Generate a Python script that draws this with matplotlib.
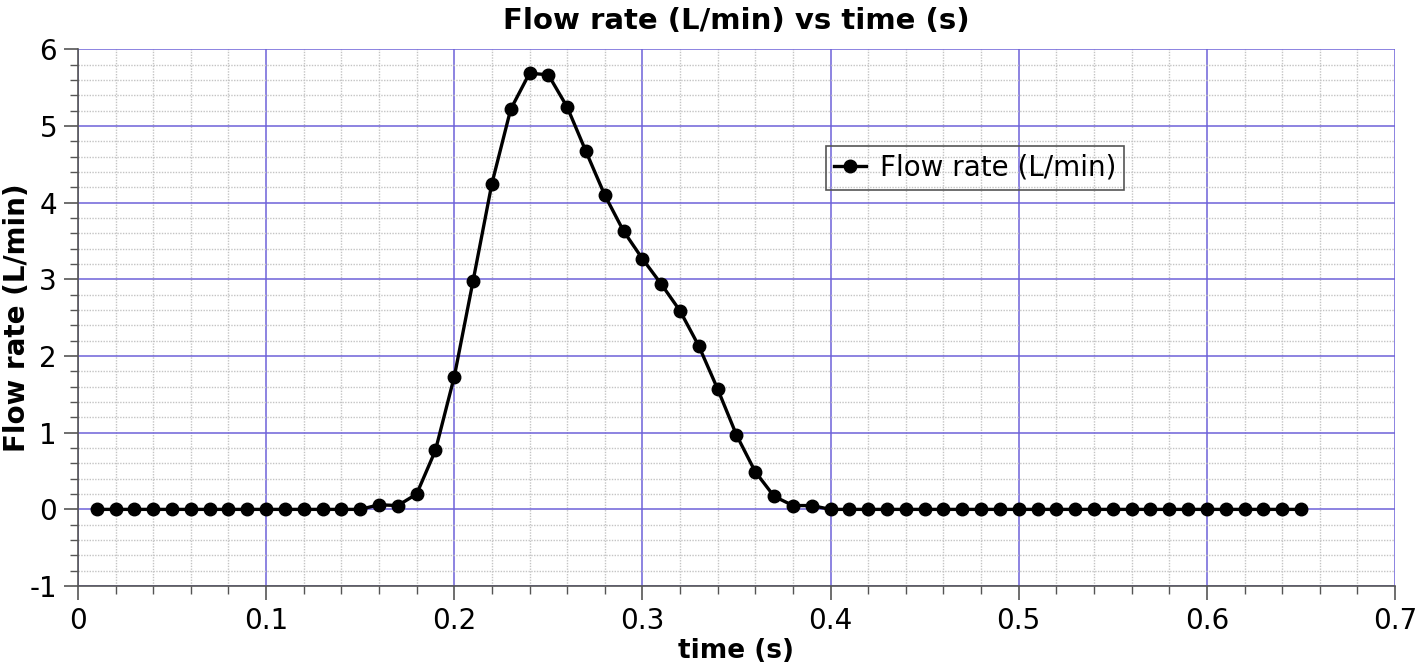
import matplotlib
matplotlib.use("Agg")
import matplotlib.pyplot as plt
from matplotlib.ticker import MultipleLocator
import numpy as np

time_s = [round(0.01 * i, 2) for i in range(1, 66)]
flow_rate = [0.0] * 15 + [
    0.06, 0.05, 0.20, 0.77, 1.73, 2.98, 4.25, 5.22, 5.69, 5.67,
    5.25, 4.67, 4.10, 3.63, 3.27, 2.94, 2.59, 2.13, 1.57, 0.97,
    0.49, 0.17, 0.05, 0.05,
] + [0.0] * 26

x_ticks = [0, 0.1, 0.2, 0.3, 0.4, 0.5, 0.6, 0.7]
x_tick_labels = ['0', '0.1', '0.2', '0.3', '0.4', '0.5', '0.6', '0.7']
y_ticks = [-1, 0, 1, 2, 3, 4, 5, 6]
y_tick_labels = ['-1', '0', '1', '2', '3', '4', '5', '6']

title = "Flow rate (L/min) vs time (s)"
xlabel = "time (s)"
ylabel = "Flow rate (L/min)"
series_label = "Flow rate (L/min)"

plt.rcParams['font.family'] = ['DejaVu Sans']

fig = plt.figure(figsize=(14.17, 6.67), dpi=100)
ax = fig.add_axes([0.055, 0.1214, 0.9295, 0.8044])

ax.set_xlim(0, 0.7)
ax.set_ylim(-1, 6)
ax.set_xticks(x_ticks)
ax.set_xticklabels(x_tick_labels)
ax.set_yticks(y_ticks)
ax.set_yticklabels(y_tick_labels)
ax.xaxis.set_minor_locator(MultipleLocator(0.02))
ax.yaxis.set_minor_locator(MultipleLocator(0.2))

ax.grid(which='minor', color='#c4c4c4', linestyle=(0, (1, 1)), linewidth=1.0, zorder=0)
ax.grid(which='major', color='#6e62d8', linestyle='-', linewidth=1.1, zorder=1)
ax.set_axisbelow(True)

ax.plot(time_s, flow_rate, color='black', linewidth=2.4, marker='o',
        markersize=9, label=series_label, zorder=3, clip_on=False)

for s in ['top', 'right']:
    ax.spines[s].set_visible(False)
for s in ['left', 'bottom']:
    ax.spines[s].set_color('#555555')
    ax.spines[s].set_linewidth(1.2)

ax.tick_params(which='major', length=10, width=1.2, color='#555555',
               labelsize=20, direction='out', pad=5)
ax.tick_params(which='minor', length=6, width=1.0, color='#555555', direction='out')

ax.set_title(title, fontsize=21, fontweight='bold', pad=15)
ax.set_xlabel(xlabel, fontsize=19, fontweight='bold', labelpad=2)
ax.set_ylabel(ylabel, fontsize=20, fontweight='bold')
ax.yaxis.set_label_coords(-0.036, 0.5)

leg = ax.legend(loc='upper left', bbox_to_anchor=(0.568, 0.82), fontsize=20,
                frameon=True, fancybox=False, edgecolor='#555555',
                borderpad=0.28, handlelength=1.15, handletextpad=0.5,
                borderaxespad=0)
leg.get_frame().set_facecolor('none')
leg.get_frame().set_alpha(None)
leg.get_frame().set_linewidth(1.2)

fig.savefig('out.png', dpi=100)
